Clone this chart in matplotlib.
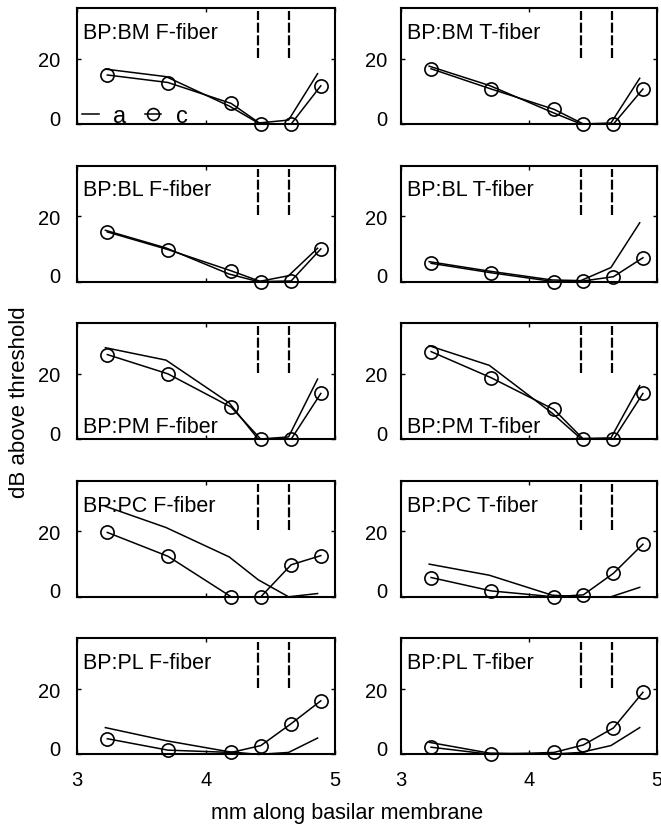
import matplotlib
matplotlib.use("Agg")
import matplotlib.pyplot as plt
import matplotlib.transforms as mtrans

plt.rcParams['font.family'] = ['Liberation Sans', 'DejaVu Sans']

# positions along the membrane (mm) for curve a (line) and curve c (circles)
x_a = [3.22, 3.69, 4.18, 4.405, 4.64, 4.865]
x_c = [3.235, 3.705, 4.195, 4.425, 4.66, 4.89]
dash_x = [4.405, 4.645]

titles = ["BP:BM F-fiber", "BP:BM T-fiber",
          "BP:BL F-fiber", "BP:BL T-fiber",
          "BP:PM F-fiber", "BP:PM T-fiber",
          "BP:PC F-fiber", "BP:PC T-fiber",
          "BP:PL F-fiber", "BP:PL T-fiber"]

# dB above threshold
bm_f_a = [16.8, 14.5, 5.5, 0.3, 1.2, 15.4]
bm_f_c = [15.0, 12.7, 6.3, 0.0, 0.0, 11.7]
bm_t_a = [17.7, 11.8, 3.6, 0.0, 0.3, 14.0]
bm_t_c = [16.9, 10.7, 4.5, 0.0, 0.0, 10.7]
bl_f_a = [15.7, 10.3, 2.3, 0.0, 1.8, 10.2]
bl_f_c = [15.2, 9.8, 3.3, 0.0, 0.2, 10.0]
bl_t_a = [6.1, 3.2, 0.5, 0.3, 4.3, 18.0]
bl_t_c = [5.6, 2.7, 0.0, 0.2, 1.5, 7.3]
pm_f_a = [28.0, 24.2, 11.1, 0.0, 0.7, 18.4]
pm_f_c = [25.9, 20.0, 9.8, 0.0, 0.0, 14.0]
pm_t_a = [28.6, 22.6, 8.0, 0.2, 0.4, 16.4]
pm_t_c = [26.8, 18.8, 9.1, 0.0, 0.0, 14.0]
pc_f_a = [27.7, 21.2, 12.2, 5.2, 0.0, 1.0]
pc_f_c = [19.7, 12.4, 0.0, 0.0, 9.8, 12.6]
pc_t_a = [10.0, 6.6, 0.5, 0.0, 0.0, 2.9]
pc_t_c = [5.9, 1.8, 0.0, 0.6, 7.2, 16.1]
pl_f_a = [8.2, 4.2, 0.8, 0.0, 0.6, 5.0]
pl_f_c = [4.8, 1.3, 0.6, 2.7, 9.4, 16.4]
pl_t_a = [3.7, 0.4, 0.1, 0.6, 2.7, 8.2]
pl_t_c = [2.2, 0.0, 0.6, 2.9, 8.1, 19.0]

a_vals = [bm_f_a, bm_t_a, bl_f_a, bl_t_a, pm_f_a, pm_t_a, pc_f_a, pc_t_a, pl_f_a, pl_t_a]
c_vals = [bm_f_c, bm_t_c, bl_f_c, bl_t_c, pm_f_c, pm_t_c, pc_f_c, pc_t_c, pl_f_c, pl_t_c]

W, H = 661, 828
fig = plt.figure(figsize=(W / 100, H / 100), dpi=100)

col_left = [77, 401]
col_width = [258, 256]

for i in range(10):
    row, col = divmod(i, 2)
    top_px = 9 + row * 157.6
    ax = fig.add_axes([col_left[col] / W, 1 - (top_px + 116) / H,
                       col_width[col] / W, 116 / H])

    line_a, = ax.plot(x_a, a_vals[i], color="black", lw=1.1, clip_on=False)
    line_c, = ax.plot(x_c, c_vals[i], color="black", lw=1.1, marker="o",
                      markersize=9.5, markerfacecolor="none", markeredgewidth=1.2,
                      clip_on=False)
    ax.vlines(dash_x, 20.3, 34.5, color="black", lw=1.6, linestyles=(0, (4.5, 1.2)))

    ax.set_xlim(3, 5)
    ax.set_ylim(0, 35.5)
    ax.set_xticks([3, 4, 5])
    ax.set_yticks([0, 20])
    ax.tick_params(direction="in", length=3, width=1, top=True, right=True,
                   labelsize=14.5)
    ax.tick_params(axis="y", pad=12 if col == 0 else 10)
    ax.tick_params(axis="x", pad=11)
    if row < 4:
        ax.set_xticklabels([])
    for sp in ax.spines.values():
        sp.set_linewidth(1.5)

    # nudge the "0" label up a little, as in the source
    lbl0 = ax.yaxis.get_major_ticks()[0].label1
    lbl0.set_transform(lbl0.get_transform() +
                       mtrans.ScaledTranslation(0, 5 / 72, fig.dpi_scale_trans))

    ty = 0.11 if row == 2 else 0.79
    ax.text(0.025, ty, titles[i], transform=ax.transAxes, fontsize=15.5,
            va="center", ha="left")

    if i == 0:
        ax.legend([line_a, line_c], ["a", "c"], loc="center left",
                  bbox_to_anchor=(0.02, 0.065), ncol=2, frameon=False,
                  fontsize=17, handlelength=0.7, handletextpad=0.6,
                  columnspacing=0.8, borderpad=0, borderaxespad=0,
                  markerscale=0.9)

fig.text(20 / W, 1 - 402 / H, "dB above threshold", rotation=90,
         ha="center", va="center", fontsize=16)
fig.text(347 / W, 1 - 814 / H, "mm along basilar membrane",
         ha="center", va="center", fontsize=15.5)

fig.savefig("out.png", dpi=100)
